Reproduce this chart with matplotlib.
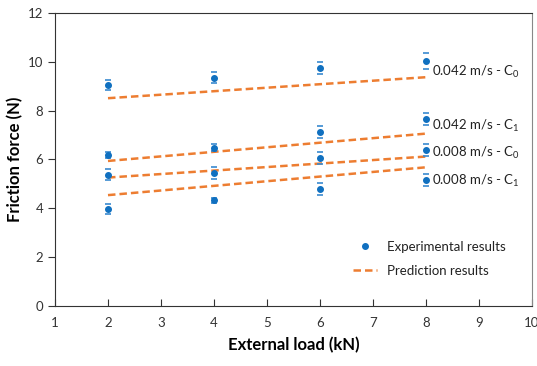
import numpy as np
import matplotlib.pyplot as plt
from matplotlib.lines import Line2D

plt.rcParams['font.family'] = ['Lato', 'DejaVu Sans']
plt.rcParams['mathtext.fontset'] = 'custom'
plt.rcParams['mathtext.rm'] = 'Lato'

# external load (kN)
load = [2, 4, 6, 8]

# measured friction force (N) and error bars
exp_042_c0 = [9.05, 9.35, 9.75, 10.02]
exp_042_c1 = [6.19, 6.49, 7.12, 7.65]
exp_008_c0 = [5.37, 5.46, 6.05, 6.39]
exp_008_c1 = [3.97, 4.33, 4.78, 5.16]
err_042_c0 = [0.22, 0.22, 0.25, 0.33]
err_042_c1 = [0.12, 0.15, 0.25, 0.25]
err_008_c0 = [0.22, 0.25, 0.25, 0.25]
err_008_c1 = [0.22, 0.10, 0.25, 0.25]

# model prediction at both ends of load range
pred_x = [2, 8]
pred_042_c0 = [8.51, 9.37]
pred_042_c1 = [5.94, 7.06]
pred_008_c0 = [5.26, 6.12]
pred_008_c1 = [4.54, 5.68]

labels = ["0.042 m/s - C$_0$", "0.042 m/s - C$_1$",
          "0.008 m/s - C$_0$", "0.008 m/s - C$_1$"]
label_y = [9.6, 7.38, 6.27, 5.12]

BLUE = "#1070c0"
ORANGE = "#ed7d31"

fig = plt.figure(figsize=(5.37, 3.66), dpi=100)
ax = fig.add_axes([0.1024, 0.164, 0.8883, 0.8005])

exps = [exp_042_c0, exp_042_c1, exp_008_c0, exp_008_c1]
errs = [err_042_c0, err_042_c1, err_008_c0, err_008_c1]
preds = [pred_042_c0, pred_042_c1, pred_008_c0, pred_008_c1]

for y, e in zip(exps, errs):
    ax.errorbar(load, y, yerr=e, fmt="o", color=BLUE, ms=4, elinewidth=0,
                capsize=2.5, capthick=1.2, ecolor="#3a8ad0", zorder=3)

for p in preds:
    ax.plot(pred_x, p, "--", color=ORANGE, lw=1.8, dashes=(3, 1.6), zorder=2)

for txt, yy in zip(labels, label_y):
    ax.text(8.12, yy, txt, fontsize=9.5, va="center", color="#222222")

ax.set_xlim(1, 10)
ax.set_ylim(0, 12)
ax.set_xticks(np.arange(1, 11))
ax.set_yticks(np.arange(0, 13, 2))
ax.tick_params(axis="x", direction="in", length=5, labelsize=9.5, pad=8,
               colors="#333333")
ax.tick_params(axis="y", direction="out", length=5, labelsize=9.5,
               colors="#333333")
for s in ["left", "bottom", "top"]:
    ax.spines[s].set_color("#333333")
ax.spines["right"].set_color("#888888")

ax.set_xlabel("External load (kN)", fontsize=12, fontweight="bold", labelpad=6)
ax.set_ylabel("Friction force (N)", fontsize=12, fontweight="bold", labelpad=3)

handles = [
    Line2D([], [], ls="none", marker="o", ms=4, color=BLUE),
    Line2D([], [], ls="--", color=ORANGE, lw=1.8, dashes=(3, 1.6)),
]
leg = ax.legend(handles, ["Experimental results", "Prediction results"],
                loc="lower right", bbox_to_anchor=(0.97, 0.06), frameon=False,
                fontsize=9.5, handlelength=1.8, labelspacing=0.9)
for t in leg.get_texts():
    t.set_color("#222222")

fig.savefig("out.png", dpi=100)
